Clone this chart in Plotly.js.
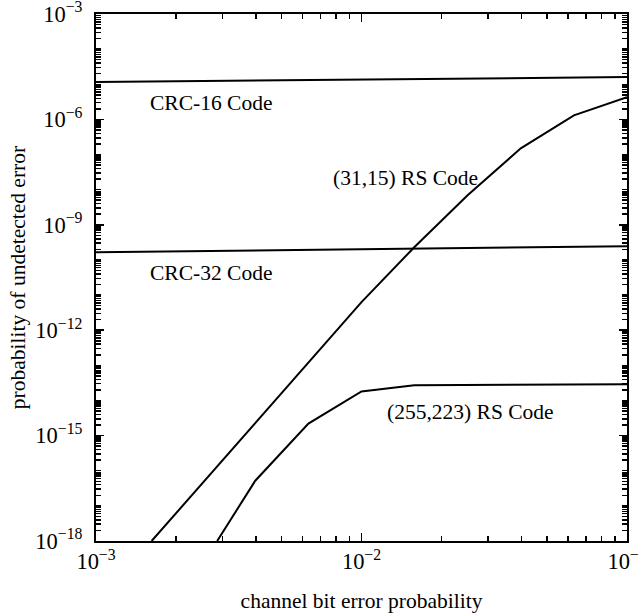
<!DOCTYPE html>
<html>
<head>
<meta charset="utf-8">
<script src="https://cdn.plot.ly/plotly-3.0.1.min.js"></script>
<style>html,body{margin:0;padding:0;background:#fff;overflow:hidden;}#chart{width:639px;height:616px;}</style>
</head>
<body>
<div id="chart"></div>
<script>
// Channel bit error probability (x) and probability of undetected error (y)
const rs31x = [0.00162, 0.0100, 0.0158, 0.0251, 0.0398, 0.0631, 0.100];
const rs31y = [1e-18, 6.3e-12, 2.3e-10, 6.9e-9, 1.5e-7, 1.3e-6, 4.3e-6];

const rs255x = [0.00286, 0.00398, 0.00631, 0.0100, 0.0158, 0.100];
const rs255y = [1e-18, 5.2e-17, 2.2e-15, 1.8e-14, 2.7e-14, 2.9e-14];

const crc16x = [0.001, 0.100];
const crc16y = [1.16e-5, 1.6e-5];

const crc32x = [0.001, 0.100];
const crc32y = [1.66e-10, 2.45e-10];

const labels = ["CRC-16 Code", "CRC-32 Code", "(31,15) RS Code", "(255,223) RS Code"];
const labelX = [-2.567, -2.567, -1.836, -1.588];   // log10 positions
const labelY = [-5.54, -10.38, -7.67, -14.34];

const FONT = "Liberation Serif, Times New Roman, serif";
const TXT = 21.5;
const TICK = 18;
const line = {color: "#000", width: 2};

const traces = [
  {x: crc16x, y: crc16y, mode: "lines", line: line, name: labels[0]},
  {x: crc32x, y: crc32y, mode: "lines", line: line, name: labels[1]},
  {x: rs31x, y: rs31y, mode: "lines", line: line, name: labels[2]},
  {x: rs255x, y: rs255y, mode: "lines", line: line, name: labels[3]}
];

const layout = {
  width: 639, height: 616,
  margin: {l: 96, r: 12, t: 14, b: 75},
  paper_bgcolor: "#fff", plot_bgcolor: "#fff",
  showlegend: false,
  font: {family: FONT, size: TICK, color: "#000"},
  xaxis: {
    type: "log", range: [-3, -1], dtick: 1, tick0: 0,
    exponentformat: "power", showgrid: false, zeroline: false,
    showline: true, linecolor: "#000", linewidth: 2, mirror: "ticks",
    ticks: "inside", ticklen: 8, tickwidth: 1.5, tickcolor: "#000",
    ticklabeloverflow: "allow",
    minor: {dtick: "D1", ticks: "inside", ticklen: 5, tickwidth: 1.5, tickcolor: "#000", showgrid: false},
    tickfont: {family: FONT, size: TICK, color: "#000"},
    title: {text: "channel bit error probability", font: {family: FONT, size: TXT, color: "#000"}, standoff: 20}
  },
  yaxis: {
    type: "log", range: [-18, -3], dtick: 3, tick0: 0,
    exponentformat: "power", showgrid: false, zeroline: false,
    showline: true, linecolor: "#000", linewidth: 2, mirror: "ticks",
    ticks: "inside", ticklen: 8, tickwidth: 1.5, tickcolor: "#000",
    ticklabelstandoff: 8, ticklabeloverflow: "allow",
    minor: {dtick: "D1", ticks: "inside", ticklen: 5, tickwidth: 1.5, tickcolor: "#000", showgrid: false},
    tickfont: {family: FONT, size: TICK, color: "#000"},
    title: {text: "probability of undetected error", font: {family: FONT, size: TXT, color: "#000"}, standoff: 4}
  },
  annotations: labels.map((t, i) => ({
    x: labelX[i], y: labelY[i], xref: "x", yref: "y", text: t, showarrow: false,
    font: {family: FONT, size: TXT, color: "#000"}
  }))
};

Plotly.newPlot("chart", traces, layout, {displayModeBar: false, staticPlot: true});
</script>
</body>
</html>
